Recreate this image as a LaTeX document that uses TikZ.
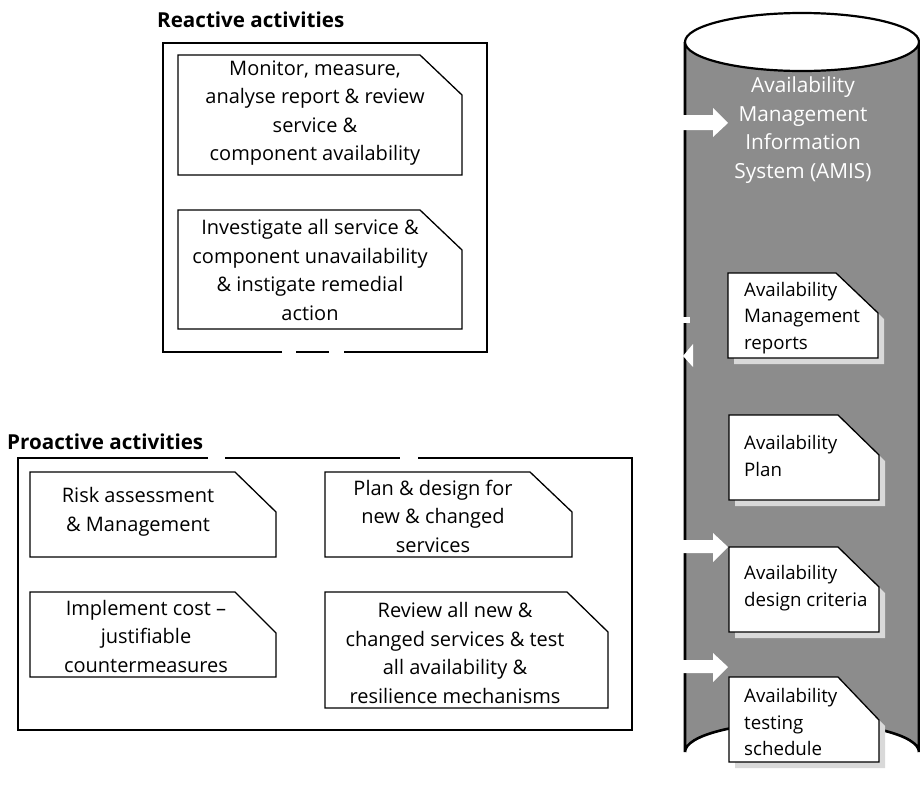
\documentclass[tikz,border=0pt]{standalone}
\usepackage{fontspec}
\setmainfont{Open Sans}
\newcommand\notebox[7][]{%
  \draw[noteline,#1] (#2,#3) -- (#6,#3) -- (#4,#7) -- (#4,#5) -- (#2,#5) -- cycle;}
\newcommand\shadowbox[6]{%
  \fill[noteshadow] (#1+6,#2+6) -- (#5+6,#2+6) -- (#3+6,#6+6) -- (#3+6,#4+6) -- (#1+6,#4+6) -- cycle;}
\begin{document}
\begin{tikzpicture}[x=1pt,y=-1pt,
  frame/.style={line width=2.2pt},
  noteline/.style={draw=black,line width=1.3pt,fill=white},
  noteshadow/.style={fill=black!15},
  notetext/.style={align=center,inner sep=0pt,font=\fontsize{20}{28.5}\selectfont},
  cyltext/.style={align=left,anchor=west,inner sep=0pt,font=\fontsize{18.7}{26.5}\selectfont},
  amistext/.style={align=center,inner sep=0pt,text=white,font=\fontsize{20.8}{28.5}\selectfont},
  titletext/.style={anchor=west,inner sep=0pt,font=\bfseries\fontsize{20.6}{24}\selectfont},
  blockarrow/.style={fill=white}
]
\useasboundingbox (0,0) rectangle (920,785);

% ---------- cylinder (AMIS) ----------
\fill[black!45] (685,42) -- (685,752) arc[start angle=180,end angle=360,x radius=117,y radius=30] -- (919,42) -- cycle;
\draw[line width=2.6pt] (685,42) -- (685,752) arc[start angle=180,end angle=360,x radius=117,y radius=30] -- (919,42);
\draw[line width=2.2pt,fill=white] (802,42) ellipse[x radius=117,y radius=29];
\node[amistext] (amis) at (803,130) {Availability\\Management\\Information\\System (AMIS)};

% white block arrows into the cylinder
\fill[blockarrow] (660,115) -- (713,115) -- (713,108) -- (728,123) -- (713,137) -- (713,130) -- (660,130) -- cycle;
\fill[blockarrow] (660,540) -- (713,540) -- (713,533) -- (728,547) -- (713,562) -- (713,553) -- (660,553) -- cycle;
\fill[blockarrow] (660,660) -- (713,660) -- (713,653) -- (728,667) -- (713,682) -- (713,673) -- (660,673) -- cycle;
% small white arrow head leaving the cylinder
\fill[blockarrow] (683,356) -- (693,344) -- (693,367) -- cycle;
\fill[blockarrow] (683,317) rectangle (690,323);

% notes inside the cylinder
\shadowbox{728}{273}{878}{358}{836}{313}
\notebox{728}{273}{878}{358}{836}{313}
\node[cyltext] (amr) at (744,318) {Availability\\Management\\reports};
\shadowbox{729}{415}{879}{500}{838}{455}
\notebox{729}{415}{879}{500}{838}{455}
\node[cyltext] (plan) at (744,456) {Availability\\Plan};
\shadowbox{729}{547}{879}{632}{838}{587}
\notebox{729}{547}{879}{632}{838}{587}
\node[cyltext] (crit) at (744,588) {Availability\\design criteria};
\shadowbox{729}{677}{879}{762}{838}{720}
\notebox{729}{677}{879}{762}{838}{720}
\node[cyltext] (test) at (744,722) {Availability\\testing\\schedule};

% ---------- reactive activities ----------
\node[titletext] (reacttitle) at (157,20) {Reactive activities};
\draw[frame] (282,352) -- (163,352) -- (163,43) -- (487,43) -- (487,352) -- (344,352);
\draw[frame] (296,352) -- (329,352);
\notebox{178}{55}{462}{175}{420}{95}
\node[notetext] (monitor) at (315,113) {Monitor, measure,\\analyse report \& review\\service \&\\component availability};
\notebox{178}{210}{462}{329}{420}{250}
\node[notetext] (investigate) at (310,270) {Investigate all service \&\\component unavailability\\\& instigate remedial\\action};

% ---------- proactive activities ----------
\node[titletext] (proacttitle) at (7,442) {Proactive activities};
\draw[frame] (208,458) -- (18,458) -- (18,730) -- (632,730) -- (632,458) -- (418,458);
\draw[frame] (225,458) -- (400,458);
\notebox{30}{472}{276}{557}{235}{512}
\node[notetext] (risk) at (138,512) {Risk assessment\\\& Management};
\notebox{30}{592}{276}{677}{235}{633}
\node[notetext] (implement) at (146,636) {Implement cost --\\justifiable\\countermeasures};
\notebox{325}{472}{572}{557}{530}{512}
\node[notetext] (plandesign) at (433,516) {Plan \& design for\\new \& changed\\services};
\notebox{325}{592}{608}{708}{567}{632}
\node[notetext] (review) at (455,653) {Review all new \&\\changed services \& test\\all availability \&\\resilience mechanisms};
\end{tikzpicture}
\end{document}
